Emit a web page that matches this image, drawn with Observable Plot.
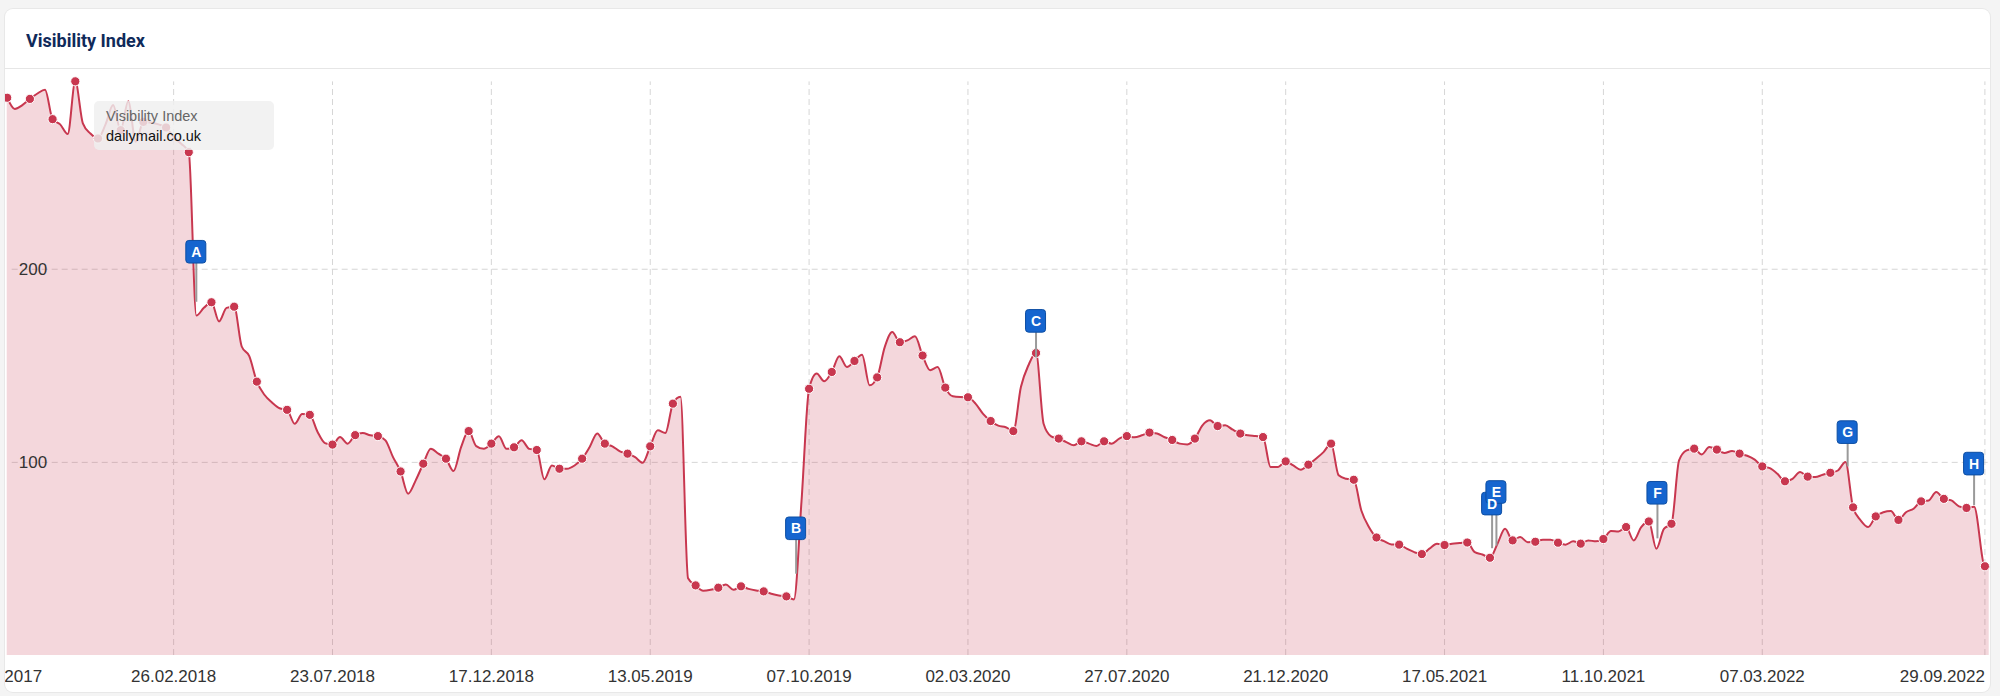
<!DOCTYPE html>
<html>
<head>
<meta charset="utf-8">
<script src="https://cdn.jsdelivr.net/npm/d3@7"></script>
<script src="https://cdn.jsdelivr.net/npm/@observablehq/plot@0.6"></script>
<style>
  html, body { margin: 0; padding: 0; width: 2000px; height: 696px; overflow: hidden; background: #f4f4f4; font-family: "Liberation Sans", Arial, sans-serif; }
  #card { position: absolute; left: 5px; top: 9px; width: 1985px; height: 683px; background: #fff; border-radius: 8px; overflow: hidden; box-shadow: 0 0 0 1px #e8e8e8; }
  #title { position: absolute; left: 21px; top: 21px; line-height: 20px; font: 700 18px Roboto, "Liberation Sans", Arial, sans-serif; color: #0f2a5a; }
  #sep { position: absolute; left: 0; top: 59px; width: 100%; height: 1px; background: #e6e6e6; }
  #chart { position: absolute; left: -5px; top: -9px; width: 2000px; height: 696px; }
  #chart svg { max-width: none !important; width: 2000px; height: 696px; display: block; }
  #tip { position: absolute; left: 88.5px; top: 91.7px; width: 180px; height: 49px; background: rgba(239,239,239,0.82); border-radius: 5px; padding-left: 12.5px; box-sizing: border-box; padding-top: 5px; font-size: 14.5px; line-height: 20px; }
  #tip .l1 { color: #666; }
  #tip .l2 { color: #111; }
</style>
</head>
<body>
<div id="card">
  <div id="title">Visibility Index</div>
  <div id="sep"></div>
  <div id="chart"></div>
  <div id="tip"><div class="l1">Visibility Index</div><div class="l2">dailymail.co.uk</div></div>
</div>
<script>
// Weekly Visibility Index values (Mondays), starting 25.09.2017
const start = "2017-09-25";
const v2017 = [288.8, 283, 285, 288.2, 291, 293, 277.7, 275, 270, 297.3, 275.5, 270.3, 267.7, 275];
const v2018 = [285, 272, 287, 266, 276.3, 276, 275, 273.4, 268.5, 265, 260.6, 176, 180, 182.9, 173, 180, 180.6, 160, 155, 141.8, 135, 131, 128, 127.2, 120, 125, 124.6, 116, 110, 109.2, 113.1, 109.7, 114.1, 115.2, 114, 113.6, 111.4, 102.7, 95.3, 83.8, 90.7, 99.3, 107, 104.5, 101.9, 95.5, 107.9, 116.2, 108.4, 107, 109.7, 113.5, 107];
const v2019 = [107.8, 111.4, 107, 106.4, 91.2, 98.4, 96.7, 96.7, 98.4, 101.9, 108, 115, 109.7, 108.3, 105.7, 104.5, 102.7, 99.8, 108.3, 116.6, 115.2, 130.4, 134, 40, 36.3, 33.5, 34, 35.1, 36.8, 34, 35.8, 34.5, 33.7, 33.2, 32, 31.1, 30.6, 29, 80, 138.1, 146, 142, 146.8, 154.9, 149.4, 152.5, 155.7, 139.9, 144, 159.7, 167.5, 162.2];
const v2020 = [163.2, 165.3, 155.3, 147.7, 149.4, 138.7, 134.2, 133.8, 133.7, 130.4, 125.1, 121.4, 119, 118.2, 116.2, 139, 150.3, 156.6, 120, 113.5, 112.3, 110.5, 108.8, 110.9, 109.7, 108.5, 110.9, 109.7, 112.3, 113.6, 113, 114, 115.4, 114.9, 113, 111.6, 109.7, 109.3, 112.3, 119.2, 121.8, 118.8, 119.2, 116.9, 114.9, 114, 113.6, 113.1, 97.6, 97.6, 100.5, 98.4];
const v2021 = [96.2, 98.8, 101.9, 105.3, 109.7, 93.3, 91.5, 91, 75.1, 66.5, 61.1, 59.2, 57.5, 57.4, 55.3, 53.5, 52.5, 55.3, 57.9, 57.2, 57.9, 58.2, 58.5, 53.5, 52.3, 50.6, 57.9, 65.6, 59.6, 61.3, 58.7, 58.9, 59.9, 59.9, 58.4, 57.4, 59.1, 57.9, 59.6, 59.1, 60.3, 64.4, 64.2, 66.5, 59.6, 66.5, 69.4, 55.3, 65.6, 68.2, 101, 106.2];
const v2022 = [107.1, 104.1, 107.9, 106.6, 104.8, 105.9, 104.5, 103.4, 101.4, 97.9, 97, 94.1, 90.2, 91.5, 95, 92.6, 92.4, 93.6, 94.6, 95.8, 100.2, 76.7, 70, 66.5, 72, 74.2, 74.8, 70.2, 74.2, 76, 79.8, 80.3, 84.6, 81.1, 80.3, 77.2, 76.4, 77];
// latest daily points after the last weekly value
const tailDates = ["2022-09-29", "2022-10-03"];
const tailValues = [46.2, 46];

// which weekly points carry a marker
const earlyMarkers = [0, 3, 6, 9, 12, 15, 18, 21, 24, 27, 30, 33, 37, 40];
const regularMarkerFrom = 43, markerStep = 3;

// x-axis tick dates
const tickDates = ["2017-09-18", "2018-02-26", "2018-07-23", "2018-12-17", "2019-05-13", "2019-10-07", "2020-03-02", "2020-07-27", "2020-12-21", "2021-05-17", "2021-10-11", "2022-03-07"];
const lastTick = "2022-09-29";
const yTicks = [100, 200];

// event flags
const flagLetters = ["A", "B", "C", "D", "E", "F", "G", "H"];
const flagDates = ["2018-03-19", "2019-09-25", "2020-05-04", "2021-06-30", "2021-07-04", "2021-11-30", "2022-05-25", "2022-09-19"];
const flagFoot = [182.9, 42.1, 154, 55.3, 56.6, 60.4, 97.6, 77.6];
const flagLevel = [208.8, 65.6, 173, 78.4, 84.4, 84, 115.4, 99.1];

// build data
const parse = d3.utcParse("%Y-%m-%d");
const startDate = parse(start);
const weekly = [...v2017, ...v2018, ...v2019, ...v2020, ...v2021, ...v2022];
const series = weekly.map((v, i) => ({date: d3.utcDay.offset(startDate, 7 * i), value: v, marker: earlyMarkers.includes(i) || (i >= regularMarkerFrom && (i - regularMarkerFrom) % markerStep === 0)}));
tailDates.forEach((d, i) => series.push({date: parse(d), value: tailValues[i], marker: i === 0}));
const markers = series.filter(d => d.marker);
const flags = flagLetters.map((l, i) => ({letter: l, date: parse(flagDates[i]), foot: flagFoot[i], level: flagLevel[i]}));
const ticks = tickDates.map(parse);
const gridDates = [...ticks, parse(lastTick)];
const fmt = d3.utcFormat("%d.%m.%Y");

const red = "#c8374f";
const grid = "#d6d6d6";

const chart = Plot.plot({
  width: 2000,
  height: 696,
  marginTop: 81.4,
  marginBottom: 41,
  marginLeft: 6.7,
  marginRight: 15.6,
  style: {background: "transparent", overflow: "visible", fontFamily: "'Liberation Sans', Arial, sans-serif", maxWidth: "none"},
  x: {type: "utc", domain: [startDate, parse(lastTick)], axis: null},
  y: {domain: [0, 297], axis: null},
  marks: [
    Plot.ruleX(gridDates, {x: d => d, y1: 0, y2: 297, stroke: grid, strokeDasharray: "6,4"}),
    Plot.ruleY(yTicks, {y: d => d, stroke: grid, strokeDasharray: "6,4", insetLeft: 5, insetRight: -6}),
    Plot.areaY(series, {x: "date", y: "value", curve: "monotone-x", fill: red, fillOpacity: 0.2}),
    Plot.lineY(series, {x: "date", y: "value", curve: "monotone-x", stroke: red, strokeWidth: 2}),
    Plot.dot(markers, {x: "date", y: "value", r: 4.6, fill: red, stroke: "white", strokeWidth: 1}),
    Plot.ruleX(flags, {x: "date", y1: "foot", y2: "level", stroke: "#9a9a9a", strokeWidth: 2}),
    Plot.rect(flags, {x1: "date", x2: "date", y1: "level", y2: "level", insetLeft: -10, insetRight: -10, insetTop: -11.3, insetBottom: -11.3, rx: 3, fill: "#1565cf", stroke: "#0d4ea3", strokeWidth: 1}),
    Plot.text(flags, {x: "date", y: "level", text: "letter", fill: "white", fontWeight: "bold", fontSize: 14, fontFamily: "'Liberation Sans', Arial, sans-serif"}),
    Plot.text(yTicks, {y: d => d, text: d => String(d), frameAnchor: "left", dx: 11.6, textAnchor: "start", fontSize: 17, fill: "#333"}),
    Plot.text(ticks, {x: d => d, text: d => fmt(d), frameAnchor: "bottom", dy: 21, lineAnchor: "middle", fontSize: 17, fill: "#333"}),
    Plot.text([parse(lastTick)], {x: d => d, text: d => fmt(d), frameAnchor: "bottom", dy: 21, lineAnchor: "middle", textAnchor: "end", fontSize: 17, fill: "#333"})
  ]
});
document.getElementById("chart").appendChild(chart);
</script>
</body>
</html>
